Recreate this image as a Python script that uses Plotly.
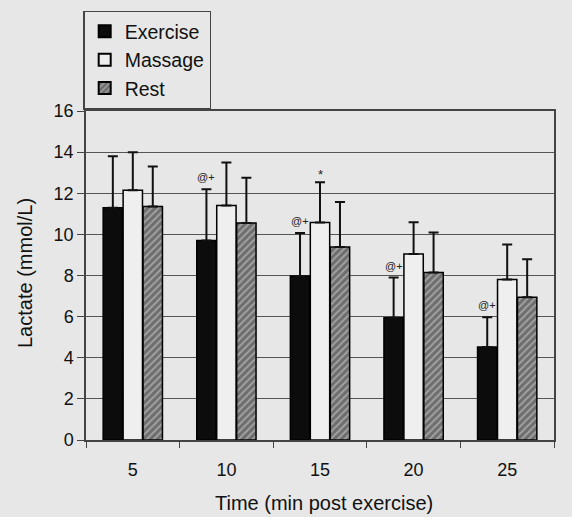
import plotly.graph_objects as go

categories = ["5", "10", "15", "20", "25"]
exercise = [11.3, 9.7, 7.97, 5.95, 4.52]
exercise_err = [2.5, 2.5, 2.1, 1.95, 1.45]
massage = [12.14, 11.4, 10.58, 9.04, 7.81]
massage_err = [1.85, 2.1, 1.95, 1.55, 1.7]
rest = [11.35, 10.55, 9.38, 8.14, 6.94]
rest_err = [1.95, 2.2, 2.2, 1.95, 1.85]
exercise_marks = ["", "@+", "@+", "@+", "@+"]
massage_marks = ["", "", "*", "", ""]
y_ticks = [0, 2, 4, 6, 8, 10, 12, 14, 16]

BG = "#e7e7e7"
FONT = "Liberation Sans, Arial, sans-serif"
W, H = 572, 517
ML, MR, MT, MB = 86, 18, 111, 77
BARGAP = 0.36

xi = list(range(len(categories)))

def err(vals):
    return dict(type="data", array=vals, arrayminus=[0] * len(vals), symmetric=False,
                color="#111111", thickness=2, width=5, visible=True)

fig = go.Figure()
fig.add_trace(go.Bar(name="Exercise", x=xi, y=exercise, error_y=err(exercise_err),
                     marker=dict(color="#0c0c0c", line=dict(color="#000", width=1.5))))
fig.add_trace(go.Bar(name="Massage", x=xi, y=massage, error_y=err(massage_err),
                     marker=dict(color="#efefef", line=dict(color="#000", width=1.5))))
fig.add_trace(go.Bar(name="Rest", x=xi, y=rest, error_y=err(rest_err),
                     marker=dict(color="#7a7a7a", line=dict(color="#000", width=1.5),
                                 pattern=dict(shape="/", bgcolor="#6e6e6e", fgcolor="#d9d9d9",
                                              size=5, solidity=0.35))))

plot_w = W - ML - MR
plot_h = H - MT - MB
bar_px = plot_w / len(categories) * (1 - BARGAP) / 3

annotations = []
for i in xi:
    if exercise_marks[i]:
        annotations.append(dict(x=i, y=exercise[i] + exercise_err[i], xref="x", yref="y",
                                text=exercise_marks[i], showarrow=False, xshift=-bar_px,
                                yanchor="bottom", yshift=4,
                                font=dict(size=11, color="#222", family=FONT)))
    if massage_marks[i]:
        annotations.append(dict(x=i, y=massage[i] + massage_err[i], xref="x", yref="y",
                                text=massage_marks[i], showarrow=False, xshift=0,
                                yanchor="bottom", yshift=-2,
                                font=dict(size=13, color="#222", family=FONT)))

annotations.append(dict(text="Lactate (mmol/L)", x=(25 - ML) / plot_w, y=(H - 273 - MB) / plot_h,
                        xref="paper", yref="paper", showarrow=False, textangle=-90,
                        xanchor="center", yanchor="middle",
                        font=dict(size=20, color="#111", family=FONT)))
annotations.append(dict(text="Time (min post exercise)", x=(324 - ML) / plot_w, y=(H - 503 - MB) / plot_h,
                        xref="paper", yref="paper", showarrow=False,
                        xanchor="center", yanchor="middle",
                        font=dict(size=20, color="#111", family=FONT)))

fig.update_layout(
    width=W, height=H,
    margin=dict(l=ML, r=MR, t=MT, b=MB, autoexpand=False),
    paper_bgcolor=BG, plot_bgcolor=BG,
    barmode="group", bargap=BARGAP, bargroupgap=0.03,
    font=dict(family=FONT, color="#111", size=18),
    showlegend=True,
    legend=dict(x=-0.006, y=1.305, xanchor="left", yanchor="top",
                bgcolor=BG, bordercolor="#444", borderwidth=1.5,
                font=dict(size=19.5, family=FONT, color="#111"),
                itemsizing="constant", tracegroupgap=0),
    xaxis=dict(type="linear", range=[-0.5, len(categories) - 0.5], tickvals=xi, ticktext=categories,
               ticks="", showline=True, linecolor="#444", linewidth=1.5, mirror=True,
               showgrid=False, zeroline=False, tickfont=dict(size=18), ticklabelstandoff=13,
               minor=dict(tick0=-0.5, dtick=1, ticks="outside", ticklen=6, tickcolor="#444",
                          showgrid=False)),
    yaxis=dict(range=[0, 16], tickvals=y_ticks, ticks="outside", ticklen=7, tickcolor="#444",
               showline=True, linecolor="#444", linewidth=1.5, mirror=True,
               showgrid=True, gridcolor="#555", gridwidth=1, zeroline=False,
               tickfont=dict(size=18)),
    annotations=annotations,
)

fig.write_html("out.html", config={"displayModeBar": False},
               post_script="document.body.style.margin='0';")
